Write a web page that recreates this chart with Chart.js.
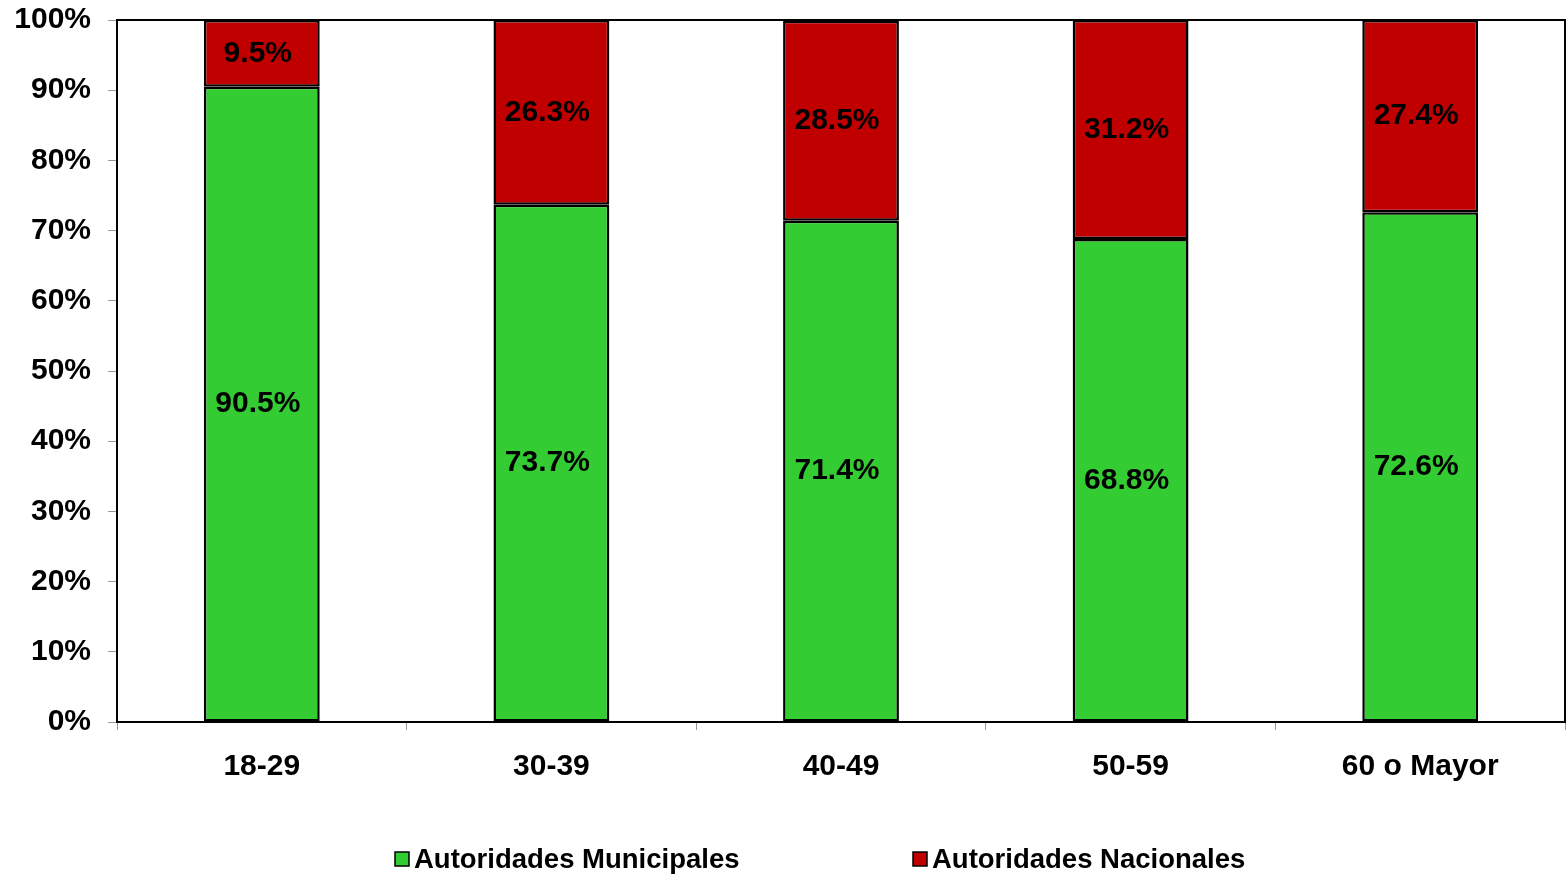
<!DOCTYPE html>
<html>
<head>
<meta charset="utf-8">
<script src="https://cdn.jsdelivr.net/npm/chart.js@4.4.1/dist/chart.umd.min.js"></script>
<style>
  html, body { margin: 0; padding: 0; background: #fff; }
  #wrap { width: 1566px; height: 874px; position: relative; }
</style>
</head>
<body>
<div id="wrap"><canvas id="chart"></canvas></div>
<script>
// Age groups and shares (percent of respondents)
const categories = ['18-29', '30-39', '40-49', '50-59', '60 o Mayor'];
const municipales = [90.5, 73.7, 71.4, 68.8, 72.6];
const nacionales = [9.5, 26.3, 28.5, 31.2, 27.4];
const yTicks = [0, 10, 20, 30, 40, 50, 60, 70, 80, 90, 100];

const FONT = "'Liberation Sans', Arial, sans-serif";

// Border box around the plot area
const frame = {
  id: 'frame',
  beforeDatasetsDraw(chart) {
    const { ctx, chartArea: a } = chart;
    ctx.save();
    ctx.strokeStyle = '#000';
    ctx.lineWidth = 2;
    ctx.strokeRect(a.left, a.top, a.right - a.left, a.bottom - a.top);
    ctx.restore();
  }
};

// Value labels in the middle of each bar segment
const valueLabels = {
  id: 'valueLabels',
  afterDatasetsDraw(chart) {
    const ctx = chart.ctx;
    ctx.save();
    ctx.font = 'bold 30px ' + FONT;
    ctx.fillStyle = '#000';
    ctx.textAlign = 'center';
    ctx.textBaseline = 'middle';
    chart.data.datasets.forEach((ds, i) => {
      chart.getDatasetMeta(i).data.forEach((bar, j) => {
        const p = bar.getCenterPoint();
        ctx.fillText(ds.data[j].toFixed(1) + '%', p.x - 4, p.y);
      });
    });
    ctx.restore();
  }
};

// Legend drawn under the axis
const bottomLegend = {
  id: 'bottomLegend',
  afterDraw(chart) {
    const ctx = chart.ctx;
    const starts = [395, 913];
    const y = 859;
    ctx.save();
    ctx.font = 'bold 27.5px ' + FONT;
    ctx.textBaseline = 'middle';
    ctx.textAlign = 'left';
    chart.data.datasets.forEach((ds, i) => {
      const x = starts[i];
      ctx.fillStyle = ds.backgroundColor;
      ctx.fillRect(x, y - 7, 14, 14);
      ctx.strokeStyle = '#000';
      ctx.lineWidth = 1.5;
      ctx.strokeRect(x, y - 7, 14, 14);
      ctx.fillStyle = '#000';
      ctx.fillText(ds.label, x + 19, y + 1);
    });
    ctx.restore();
  }
};

new Chart(document.getElementById('chart'), {
  type: 'bar',
  data: {
    labels: categories,
    datasets: [
      { label: 'Autoridades Municipales', data: municipales, backgroundColor: '#33CC33',
        borderColor: '#000', borderWidth: 2.5, borderSkipped: false },
      { label: 'Autoridades Nacionales', data: nacionales, backgroundColor: '#C00000',
        borderColor: '#000', borderWidth: 2.5, borderSkipped: false }
    ]
  },
  options: {
    responsive: true,
    maintainAspectRatio: false,
    animation: false,
    devicePixelRatio: 1,
    categoryPercentage: 1,
    barPercentage: 0.4,
    layout: { padding: { top: 20, right: 1, left: 0, bottom: 0 } },
    plugins: { legend: { display: false }, tooltip: { enabled: false } },
    scales: {
      x: {
        stacked: true,
        grid: { drawOnChartArea: false, tickLength: 8, tickColor: '#999', offset: true },
        border: { color: '#000', width: 2 },
        ticks: { color: '#000', padding: 19, font: { family: FONT, size: 30, weight: 'bold' } },
        afterFit(scale) {
          scale.height = 152;
          scale.paddingLeft = 0;
          scale.paddingRight = 0;
        }
      },
      y: {
        stacked: true,
        min: 0,
        max: 100,
        afterBuildTicks(scale) { scale.ticks = yTicks.map(v => ({ value: v })); },
        grid: { drawOnChartArea: false, tickLength: 9, tickColor: '#999' },
        border: { color: '#000', width: 2 },
        ticks: {
          color: '#000', padding: 17,
          font: { family: FONT, size: 30, weight: 'bold' },
          callback: v => v + '%'
        },
        afterFit(scale) {
          scale.width = 117;
          scale.paddingTop = 0;
          scale.paddingBottom = 0;
        }
      }
    }
  },
  plugins: [frame, valueLabels, bottomLegend]
});
</script>
</body>
</html>
